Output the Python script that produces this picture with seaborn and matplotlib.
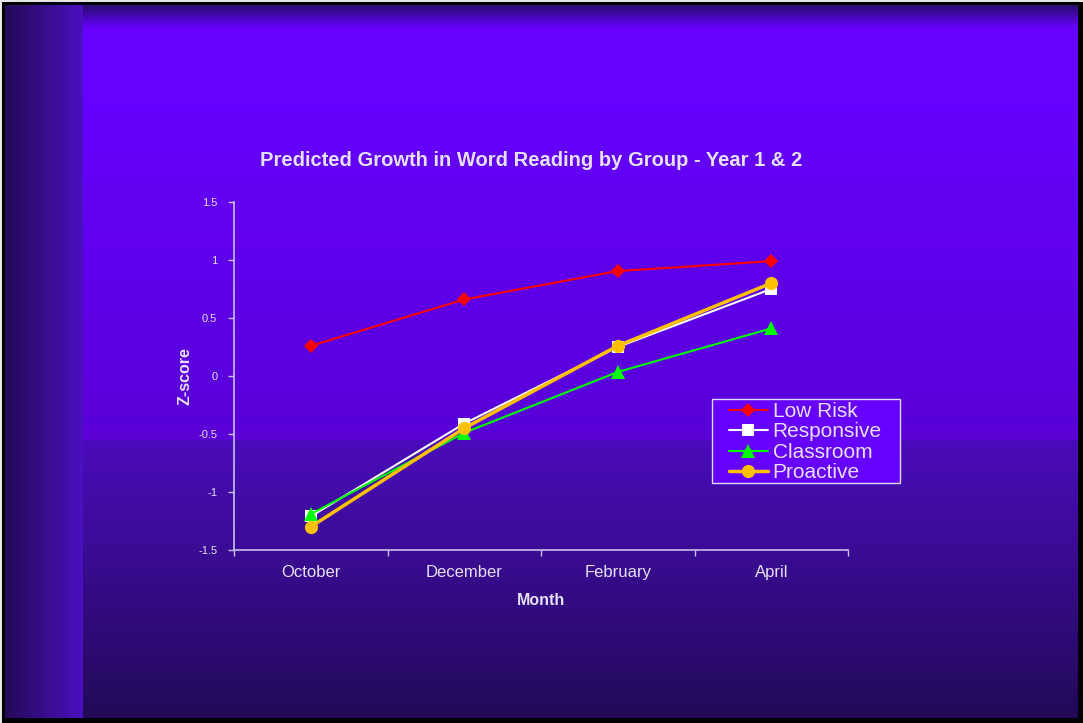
import numpy as np
import pandas as pd
import matplotlib
matplotlib.use("Agg")
import matplotlib.pyplot as plt
from matplotlib.patches import Rectangle
import seaborn as sns

months = ["October", "December", "February", "April"]
low_risk = [0.26, 0.66, 0.905, 0.99]
responsive = [-1.21, -0.41, 0.25, 0.75]
classroom = [-1.19, -0.49, 0.035, 0.41]
proactive = [-1.30, -0.45, 0.26, 0.80]
series_names = ["Low Risk", "Responsive", "Classroom", "Proactive"]
y_ticks = [-1.5, -1, -0.5, 0, 0.5, 1, 1.5]
y_tick_labels = ["-1.5", "-1", "-0.5", "0", "0.5", "1", "1.5"]

sns.set_theme(style="white")
plt.rcParams["font.family"] = ["Liberation Sans", "DejaVu Sans"]

W, H = 1083, 723
fig = plt.figure(figsize=(W / 100, H / 100), dpi=100)

# ---- slide background ----
def c(h):
    return np.array([int(h[i:i + 2], 16) for i in (1, 3, 5)]) / 255.0

ys = np.arange(H, dtype=float)[:, None, None]
xs = np.arange(W, dtype=float)[None, :, None]

t_top = np.clip((ys - 100) / 340.0, 0, 1)
upper = c("#6600FF") * (1 - t_top) + c("#5800D6") * t_top
t_bot = np.clip((ys - 440) / 278.0, 0, 1)
lower = c("#4A0CBA") * (1 - t_bot) + c("#220A58") * t_bot
img = np.where(ys < 440, upper, lower) * np.ones((1, W, 1))

tt = np.clip((ys - 6) / 22.0, 0, 1)
top_col = c("#2E0C78") * (1 - tt) + c("#6600FF") * tt
img = np.where((ys < 28) & (xs >= 40), top_col * np.ones((1, W, 1)), img)

tl = np.clip((xs - 6) / 76.0, 0, 1)
left_col = c("#240A58") * (1 - tl) + c("#4A10BE") * tl
left_mask = (xs < 83) & (ys >= 0)
img = np.where(left_mask, left_col * np.ones((H, 1, 1)), img)

img[:5, :] = 0
img[-5:, :] = 0
img[:, :5] = 0
img[:, -5:] = 0
img[:, :2] = 0.9
img[:2, :] = 0.9

bg = fig.add_axes([0, 0, 1, 1])
bg.imshow(np.clip(img, 0, 1), aspect="auto", interpolation="nearest")
bg.set_axis_off()

# ---- chart ----
ax = fig.add_axes([234 / W, 1 - 550 / H, (848 - 234) / W, (550 - 202) / H])
ax.set_facecolor("none")
ax.patch.set_alpha(0)

df = pd.DataFrame({
    "Month": months * 4,
    "Z": low_risk + responsive + classroom + proactive,
    "Group": np.repeat(series_names, 4),
    "x": list(range(4)) * 4,
})

styles = {
    "Low Risk": dict(color="#FF0000", marker="D", ms=7.5, lw=1.5),
    "Responsive": dict(color="#FFFFFF", marker="s", ms=8.5, lw=1.5),
    "Classroom": dict(color="#00FF00", marker="^", ms=9.5, lw=1.5),
    "Proactive": dict(color="#FFC000", marker="o", ms=9.5, lw=2.5),
}
for name in series_names:
    st = styles[name]
    sub = df[df["Group"] == name]
    sns.lineplot(data=sub, x="x", y="Z", ax=ax, color=st["color"], marker=st["marker"],
                 markersize=st["ms"], linewidth=st["lw"], markeredgewidth=0,
                 label=name, legend=False)

txt = "#E6E0FA"
spine_c = "#C8C0EC"
ax.set_xlim(-0.5, 3.5)
ax.set_ylim(-1.5, 1.5)
ax.set_yticks(y_ticks)
ax.set_yticklabels(y_tick_labels)
ax.set_xticks([0, 1, 2, 3])
ax.set_xticklabels(months)
ax.set_xticks([-0.5, 0.5, 1.5, 2.5, 3.5], minor=True)
ax.tick_params(axis="x", which="major", length=0, pad=11, labelsize=12, labelcolor=txt)
ax.tick_params(axis="x", which="minor", length=4, width=1, color=spine_c, direction="out")
ax.tick_params(axis="y", length=4, width=1, color=spine_c, direction="out", labelsize=8, labelcolor=txt, pad=8)
ax.xaxis.set_ticks_position("bottom")
ax.yaxis.set_ticks_position("left")
for s in ["top", "right"]:
    ax.spines[s].set_visible(False)
for s in ["left", "bottom"]:
    ax.spines[s].set_color(spine_c)
    ax.spines[s].set_linewidth(1.2)
ax.set_xlabel("Month", fontsize=11.5, fontweight="bold", color=txt, labelpad=9)
ax.set_ylabel("Z-score", fontsize=11.5, fontweight="bold", color=txt, labelpad=4)

fig.text(531 / W, 1 - 160 / H, "Predicted Growth in Word Reading by Group - Year 1 & 2",
         ha="center", va="center", fontsize=14.5, fontweight="bold", color=txt)

# legend frame
frame = Rectangle((712 / W, 1 - 483 / H), (900 - 712) / W, (483 - 399) / H,
                  transform=fig.transFigure, facecolor="#6600FF", edgecolor="#E0DAF5",
                  linewidth=1, zorder=5)
fig.patches.append(frame)

handles, labels = ax.get_legend_handles_labels()
leg = fig.legend(handles, labels, loc="upper left", bbox_to_anchor=(729 / W, 1 - 402 / H),
                 bbox_transform=fig.transFigure, borderaxespad=0, frameon=False,
                 fontsize=15, labelspacing=0.07, handlelength=1.85, handletextpad=0.25,
                 borderpad=0.0, labelcolor=txt)
leg.set_zorder(6)

fig.savefig("out.png", dpi=100)
